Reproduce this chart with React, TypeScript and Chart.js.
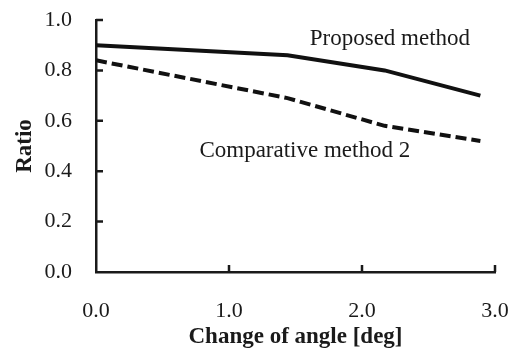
import React, { useEffect, useRef } from "react";
import { Chart, registerables } from "chart.js";

Chart.register(...registerables);

const xValues = [0, 1.44, 2.17, 2.89];
const proposed = [0.9, 0.86, 0.8, 0.7];
const comparative2 = [0.84, 0.69, 0.58, 0.52];
const seriesNames = ["Proposed method", "Comparative method 2"];
const xTicks = [0, 1, 2, 3];
const yTicks = [0, 0.2, 0.4, 0.6, 0.8, 1.0];

const FONT = "'Liberation Serif', 'Times New Roman', serif";

const innerTicks = {
  id: "innerTicks",
  afterDraw(chart: any) {
    const ctx = chart.ctx;
    const xs = chart.scales.x;
    const ys = chart.scales.y;
    const ca = chart.chartArea;
    ctx.save();
    ctx.strokeStyle = "#1a1a1a";
    ctx.lineWidth = 2.5;
    ctx.beginPath();
    for (const v of yTicks) {
      if (v === 0) continue;
      const py = ys.getPixelForValue(v);
      ctx.moveTo(ca.left, py);
      ctx.lineTo(ca.left + 7, py);
    }
    for (const v of xTicks) {
      if (v === 0) continue;
      const px = xs.getPixelForValue(v);
      ctx.moveTo(px, ca.bottom);
      ctx.lineTo(px, ca.bottom - 7);
    }
    ctx.stroke();
    // annotations
    ctx.fillStyle = "#1a1a1a";
    ctx.font = `23px ${FONT}`;
    ctx.textAlign = "center";
    ctx.textBaseline = "alphabetic";
    ctx.fillText(seriesNames[0], xs.getPixelForValue(2.21), ys.getPixelForValue(0.9));
    ctx.fillText(seriesNames[1], xs.getPixelForValue(1.57), ys.getPixelForValue(0.456));
    ctx.restore();
  },
};

export default function App() {
  const ref = useRef<HTMLCanvasElement>(null);
  useEffect(() => {
    if (!ref.current) return;
    const chart = new Chart(ref.current, {
      type: "line",
      data: {
        datasets: [
          {
            label: seriesNames[0],
            data: xValues.map((x, i) => ({ x, y: proposed[i] })),
            borderColor: "#111",
            borderWidth: 4,
            pointRadius: 0,
            tension: 0,
          },
          {
            label: seriesNames[1],
            data: xValues.map((x, i) => ({ x, y: comparative2[i] })),
            borderColor: "#111",
            borderWidth: 4,
            borderDash: [11, 5],
            pointRadius: 0,
            tension: 0,
          },
        ],
      },
      plugins: [innerTicks],
      options: {
        responsive: false,
        animation: false,
        layout: { padding: { top: 20, right: 23, left: 0, bottom: 0 } },
        plugins: { legend: { display: false }, tooltip: { enabled: false } },
        scales: {
          x: {
            type: "linear",
            min: 0,
            max: 3,
            afterFit: (s: any) => {
              s.height = 78;
              s.paddingLeft = 0;
              s.paddingRight = 0;
            },
            afterBuildTicks: (s: any) => {
              s.ticks = xTicks.map((v) => ({ value: v }));
            },
            grid: { display: false, drawTicks: false },
            border: { display: true, color: "#1a1a1a", width: 2.5 },
            ticks: {
              color: "#1a1a1a",
              font: { family: FONT, size: 22 },
              padding: 26,
              maxRotation: 0,
              callback: (v: any) => Number(v).toFixed(1),
            },
            title: {
              display: true,
              text: "Change of angle [deg]",
              color: "#1a1a1a",
              font: { family: FONT, size: 23, weight: "bold", lineHeight: 1.0 },
              padding: { top: 0, bottom: 1 },
            },
          },
          y: {
            min: 0,
            max: 1,
            afterFit: (s: any) => {
              s.width = 96;
              s.paddingTop = 0;
              s.paddingBottom = 0;
            },
            afterBuildTicks: (s: any) => {
              s.ticks = yTicks.map((v) => ({ value: v }));
            },
            grid: { display: false, drawTicks: false },
            border: { display: true, color: "#1a1a1a", width: 2.5 },
            ticks: {
              color: "#1a1a1a",
              font: { family: FONT, size: 22 },
              padding: 24,
              callback: (v: any) => Number(v).toFixed(1),
            },
            title: {
              display: true,
              text: "Ratio",
              color: "#1a1a1a",
              font: { family: FONT, size: 23, weight: "bold", lineHeight: 1.2 },
              padding: { top: 11, bottom: 0 },
            },
          },
        },
      },
    });
    return () => chart.destroy();
  }, []);
  return (
    <div style={{ position: "fixed", left: 0, top: 0, width: 518, height: 350, background: "#fff" }}>
      <canvas ref={ref} width={518} height={350} style={{ width: 518, height: 350 }} />
    </div>
  );
}
